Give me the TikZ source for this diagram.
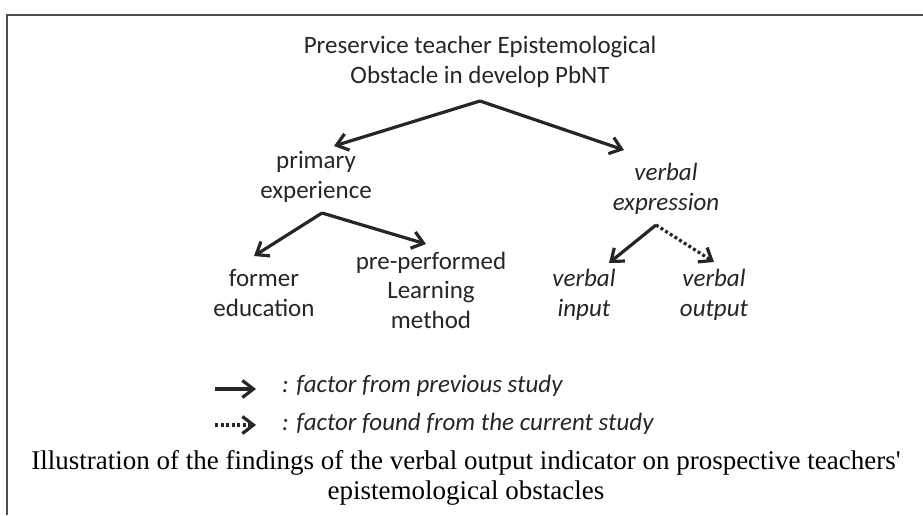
\documentclass[tikz,border=0pt]{standalone}
\usepackage{fontspec}
\setmainfont{Carlito}
\newfontfamily\capfont{Liberation Serif}
\usetikzlibrary{arrows.meta}
\begin{document}
\begin{tikzpicture}[x=1pt,y=-1pt,
  lbl/.style={font=\fontsize{25}{29.5}\selectfont, align=center, inner sep=0pt, text=black!85},
  ilbl/.style={lbl, font=\fontsize{25}{29.5}\selectfont\itshape},
  arr/.style={line width=3.2pt, black!85, -{Straight Barb[length=11pt,width=17pt,line width=3.2pt]}},
  darr/.style={arr, dash pattern=on 3pt off 2.5pt},
  captxt/.style={font=\capfont\fontsize{27}{30}\selectfont, align=center, inner sep=0pt}]
\useasboundingbox (0,0) rectangle (923,515);
\fill[white] (0,0) rectangle (923,515);
\draw[black!70, line width=1.5pt] (7,515) -- (7,15) -- (923,15);
% nodes
\node[lbl] (root) at (480,62) {Preservice teacher Epistemological\\Obstacle in develop PbNT};
\node[lbl] (prim) at (316,177) {primary\\experience};
\node[ilbl] (verb) at (666,189) {verbal\\expression};
\node[lbl] (former) at (264,293) {former\\education};
\node[lbl] (pre) at (431,290) {pre-performed\\Learning\\method};
\node[ilbl] (vin) at (584,295) {verbal\\input};
\node[ilbl] (vout) at (714,295) {verbal\\output};
% connector points
\coordinate (r0) at (480,101);
\coordinate (rL) at (334,146);
\coordinate (rR) at (624,150);
\coordinate (p0) at (322,213);
\coordinate (pL) at (254,256);
\coordinate (pR) at (426,244);
\coordinate (v0) at (656,225);
\coordinate (vL) at (609,263);
\coordinate (vR) at (714,262);
\draw[arr] (r0) -- (rL);
\draw[arr] (r0) -- (rR);
\draw[arr] (p0) -- (pL);
\draw[arr] (p0) -- (pR);
\draw[arr] (v0) -- (vL);
\draw[darr] (v0) -- (vR);
% legend
\coordinate (l1a) at (215,389);
\coordinate (l1b) at (256,389);
\coordinate (l2a) at (215,425);
\coordinate (l2b) at (256,425);
\draw[arr] (l1a) -- (l1b);
\draw[darr] (l2a) -- (l2b);
\node[ilbl, anchor=west] (leg1) at (282,386) {: factor from previous study};
\node[ilbl, anchor=west] (leg2) at (282,424) {: factor found from the current study};
% caption
\node[captxt] (caption) at (466,478) {Illustration of the findings of the verbal output indicator on prospective teachers'\\epistemological obstacles};
\end{tikzpicture}
\end{document}
